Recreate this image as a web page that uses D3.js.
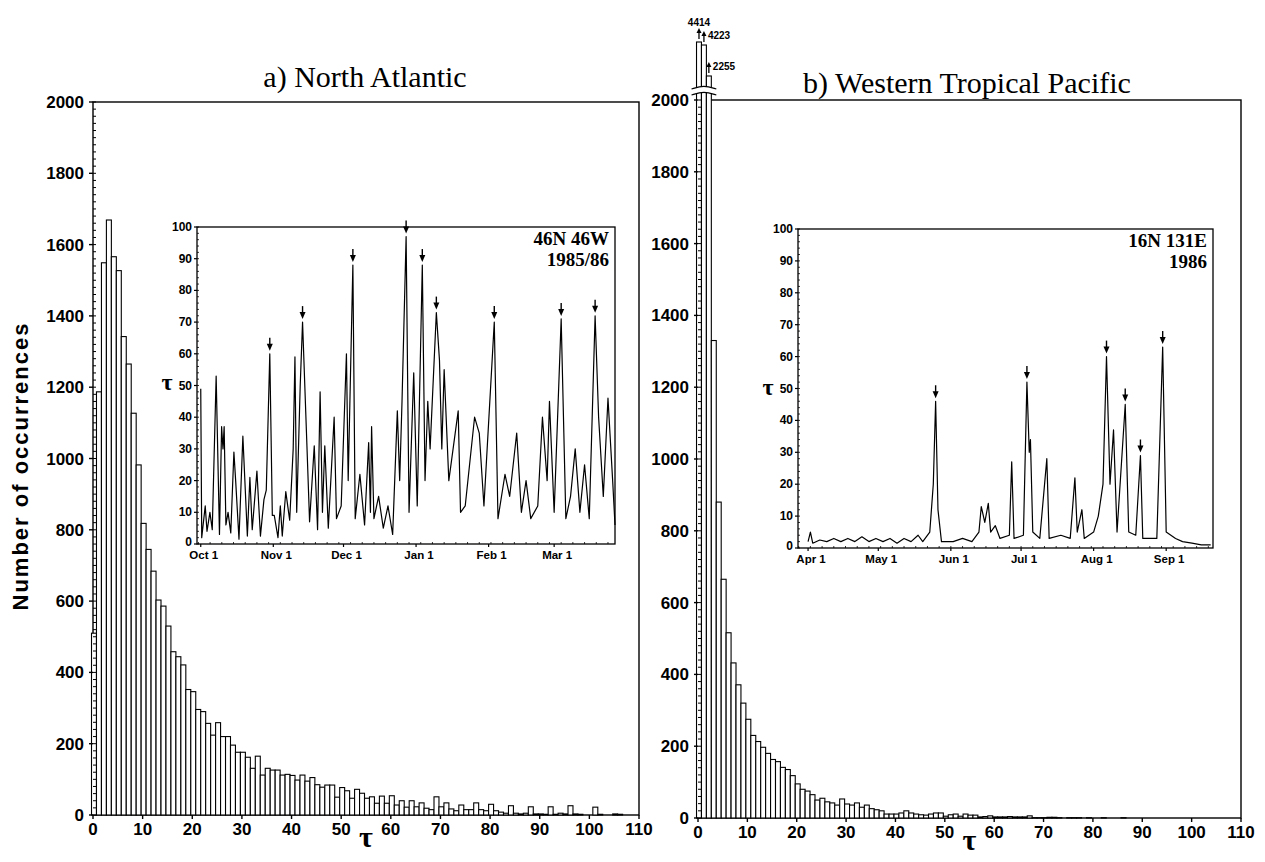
<!DOCTYPE html>
<html>
<head>
<meta charset="utf-8">
<script src="https://cdn.jsdelivr.net/npm/d3@7"></script>
<style>
  body { margin: 0; background: #fff; }
  svg text { fill: #000; }
  .tick-lbl { font-family: "Liberation Sans", Arial, sans-serif; font-weight: bold; }
  .serif { font-family: "Liberation Serif", "Times New Roman", serif; }
</style>
</head>
<body>
<svg id="chart"></svg>
<script>
const width = 1265;
const height = 862;

// histogram counts, one per bin of tau (bin i ~ tau i .. i+1)
const northAtlanticCounts = [
  510, 1187, 1549, 1669, 1566, 1527, 1342, 1265, 1127, 982,
  818, 745, 684, 603, 586, 530, 458, 444, 421, 352,
  346, 296, 290, 257, 224, 259, 220, 220, 196, 176,
  176, 162, 131, 165, 112, 131, 126, 126, 112, 114,
  111, 98, 112, 95, 105, 85, 78, 84, 84, 50,
  77, 68, 47, 72, 61, 47, 51, 33, 53, 33,
  54, 28, 40, 22, 40, 23, 34, 19, 15, 51,
  23, 34, 17, 12, 28, 15, 15, 34, 15, 12,
  30, 12, 8, 5, 26, 5, 3, 5, 23, 3,
  3, 2, 23, 2, 5, 3, 26, 3, 2, 0,
  0, 22, 2, 0, 0, 3, 2, 0, 0, 0
];
const westPacificCounts = [
  4414, 4223, 2255, 1330, 880, 665, 516, 432, 371,
  320, 275, 230, 213, 197, 180, 163, 157, 141, 135,
  118, 95, 80, 75, 65, 50, 55, 45, 42, 36,
  53, 39, 36, 42, 30, 36, 26, 23, 20, 11,
  11, 11, 14, 20, 14, 11, 9, 8, 11, 14,
  14, 5, 9, 11, 5, 11, 8, 8, 3, 4,
  6, 3, 3, 3, 4, 3, 3, 3, 6, 1,
  1, 1, 2, 2, 1, 0, 1, 1, 1, 0,
  1, 0, 0, 1, 0, 0, 0, 1, 0, 0,
  0, 0, 0, 0, 0, 0, 0, 0, 0, 0,
  0, 0, 0, 0, 0, 0, 0, 0, 0, 0
];
const histYTicks = d3.range(0, 2001, 200);
const histXTicks = d3.range(0, 111, 10);

// inset time series: [date, tau]
const naSeries = [
  ["1985-10-01", 49], ["1985-10-01T10", 2], ["1985-10-02T22", 12], ["1985-10-03T16", 4],
  ["1985-10-04T22", 10], ["1985-10-05T22", 4.5], ["1985-10-07T14", 53], ["1985-10-09", 3],
  ["1985-10-09T22", 37], ["1985-10-10T12", 30], ["1985-10-11", 37], ["1985-10-11T18", 6],
  ["1985-10-12T16", 10], ["1985-10-13T20", 3.5], ["1985-10-15T04", 29], ["1985-10-15T22", 20],
  ["1985-10-17T08", 1.5], ["1985-10-19", 34], ["1985-10-20T22", 2.5], ["1985-10-22", 21],
  ["1985-10-23", 4.5], ["1985-10-25", 23], ["1985-10-26T12", 2.5], ["1985-10-28", 14],
  ["1985-10-29", 17], ["1985-10-30T12", 60], ["1985-10-31T14", 9], ["1985-11-01T10", 9],
  ["1985-11-03", 2], ["1985-11-04", 12], ["1985-11-04T20", 2.5], ["1985-11-06T08", 16.5],
  ["1985-11-08", 7.5], ["1985-11-09T12", 30], ["1985-11-10T06", 59], ["1985-11-11", 10],
  ["1985-11-12T12", 50], ["1985-11-13T12", 70], ["1985-11-15T10", 30], ["1985-11-16T12", 7],
  ["1985-11-18T12", 31], ["1985-11-19T22", 4.5], ["1985-11-21", 48], ["1985-11-22", 10],
  ["1985-11-23", 31], ["1985-11-24T12", 5], ["1985-11-27", 40], ["1985-11-28", 8],
  ["1985-11-30", 12], ["1985-12-02T06", 60], ["1985-12-03", 20], ["1985-12-05", 88],
  ["1985-12-06", 8], ["1985-12-08", 22], ["1985-12-10", 6], ["1985-12-11T18", 32],
  ["1985-12-12T12", 10], ["1985-12-13", 37], ["1985-12-14", 8], ["1985-12-16", 15],
  ["1985-12-18", 5], ["1985-12-20", 12], ["1985-12-22", 3], ["1985-12-24", 42],
  ["1985-12-25", 20], ["1985-12-26", 45], ["1985-12-27T18", 97], ["1985-12-29", 10],
  ["1985-12-31", 54], ["1986-01-01T12", 12], ["1986-01-03T16", 88], ["1986-01-04T20", 20],
  ["1986-01-06", 45], ["1986-01-07", 30], ["1986-01-09T16", 73], ["1986-01-11", 58],
  ["1986-01-12", 30], ["1986-01-13", 55], ["1986-01-15", 20], ["1986-01-19", 42],
  ["1986-01-20", 10], ["1986-01-22", 12], ["1986-01-26", 40], ["1986-01-28", 35],
  ["1986-01-30", 12], ["1986-02-03T10", 70], ["1986-02-05", 8], ["1986-02-08", 22],
  ["1986-02-10", 15], ["1986-02-13", 35], ["1986-02-15", 10], ["1986-02-17", 20],
  ["1986-02-19", 8], ["1986-02-22", 12], ["1986-02-24", 40], ["1986-02-26", 20],
  ["1986-02-27", 45], ["1986-03-01", 10], ["1986-03-04", 71], ["1986-03-06", 8],
  ["1986-03-08", 15], ["1986-03-10", 30], ["1986-03-12", 10], ["1986-03-14", 25],
  ["1986-03-16", 8], ["1986-03-18T12", 72], ["1986-03-20", 40], ["1986-03-22", 15],
  ["1986-03-24", 46], ["1986-03-26", 20], ["1986-03-27", 6]
];
const naArrows = ["1985-10-30T12", "1985-11-13T12", "1985-12-05", "1985-12-27T18",
  "1986-01-03T16", "1986-01-09T16", "1986-02-03T10", "1986-03-04", "1986-03-18T12"];

const wpSeries = [
  ["1986-04-01", 2], ["1986-04-02", 5], ["1986-04-03", 1.5], ["1986-04-06", 2.5],
  ["1986-04-09", 2], ["1986-04-12", 3], ["1986-04-15", 2], ["1986-04-18", 3],
  ["1986-04-21", 2], ["1986-04-24", 3.5], ["1986-04-27", 2], ["1986-04-30", 3],
  ["1986-05-03", 2], ["1986-05-06", 3], ["1986-05-09", 1.5], ["1986-05-12", 3],
  ["1986-05-15", 2], ["1986-05-18", 4], ["1986-05-20", 2], ["1986-05-23", 5],
  ["1986-05-24T12", 20], ["1986-05-25T12", 46], ["1986-05-26T12", 12], ["1986-05-28", 2],
  ["1986-06-02", 2], ["1986-06-06", 3], ["1986-06-10", 2], ["1986-06-13", 5],
  ["1986-06-14", 13], ["1986-06-15T12", 8], ["1986-06-17", 14], ["1986-06-18", 5],
  ["1986-06-20", 7], ["1986-06-22", 3], ["1986-06-26", 4], ["1986-06-27", 27],
  ["1986-06-28", 3], ["1986-07-02", 4], ["1986-07-03T12", 52], ["1986-07-04T12", 30],
  ["1986-07-05", 34], ["1986-07-06", 5], ["1986-07-09", 3], ["1986-07-12", 28],
  ["1986-07-13", 3], ["1986-07-18", 4], ["1986-07-22", 3], ["1986-07-24", 22],
  ["1986-07-25", 5], ["1986-07-27", 12], ["1986-07-28", 3], ["1986-08-01", 5],
  ["1986-08-03", 10], ["1986-08-05", 20], ["1986-08-06T12", 60], ["1986-08-08", 20],
  ["1986-08-09T12", 37], ["1986-08-11", 5], ["1986-08-14T12", 45], ["1986-08-16", 5],
  ["1986-08-19", 4], ["1986-08-21", 29], ["1986-08-22", 3], ["1986-08-28", 3],
  ["1986-08-30T12", 63], ["1986-09-01", 5], ["1986-09-05", 3], ["1986-09-08", 2],
  ["1986-09-12", 1.5], ["1986-09-16", 1], ["1986-09-20", 1]
];
const wpArrows = ["1986-05-25T12", "1986-07-03T12", "1986-08-06T12", "1986-08-14T12",
  "1986-08-21", "1986-08-30T12"];

const insetYTicks = d3.range(0, 101, 10);
const naMonths = ["1985-10-01", "1985-11-01", "1985-12-01", "1986-01-01", "1986-02-01", "1986-03-01"];
const wpMonths = ["1986-04-01", "1986-05-01", "1986-06-01", "1986-07-01", "1986-08-01", "1986-09-01"];

// labels written beside the bars that run past the axis break
const brokenLabels = ["4414", "4223", "2255"];

const parse = s => new Date(s.length > 10 ? s + ":00" : s + "T00:00");
const fmtMonth = d3.timeFormat("%b 1");

const svg = d3.select("#chart").attr("width", width).attr("height", height);

function drawHist(o) {
  const x = d3.scaleLinear().domain([0, 110]).range([o.left, o.right]);
  const y = d3.scaleLinear().domain([0, 2000]).range([o.bottom, o.top]);
  // compressed scale used above the break
  const yTop = d3.scaleLinear().domain([2000, 4414]).range([o.top - 20, o.top - 58]);
  const g = svg.append("g");

  g.append("rect")
    .attr("x", o.left).attr("y", o.top)
    .attr("width", o.right - o.left).attr("height", o.bottom - o.top)
    .attr("fill", "none").attr("stroke", "#000").attr("stroke-width", 1.4);

  const bars = o.counts.map((c, i) => ({ i, c }));
  const barTop = d => d.c > 2000 ? yTop(d.c) : y(d.c);
  g.selectAll("rect.bar")
    .data(bars)
    .enter().append("rect")
    .attr("class", "bar")
    .attr("x", d => x(d.i - 0.3))
    .attr("width", d => x(d.i + 0.7) - x(d.i - 0.3))
    .attr("y", barTop)
    .attr("height", d => o.bottom - barTop(d))
    .attr("fill", "#fff").attr("stroke", "#000").attr("stroke-width", 1.1);

  const tall = bars.filter(d => d.c > 2000);
  if (tall.length) {
    const x0 = x(tall[0].i - 0.3) - 2, x1 = x(tall[tall.length - 1].i + 0.7) + 2;
    g.append("rect").attr("x", x0).attr("y", o.top - 13).attr("width", x1 - x0).attr("height", 6).attr("fill", "#fff");
    const wave = d3.line().curve(d3.curveBasis);
    [o.top - 13, o.top - 7].forEach(yy => {
      g.append("path")
        .attr("d", wave([[x0 - 3, yy + 2], [(x0 + x1) / 2, yy - 2], [x1 + 3, yy + 2]]))
        .attr("fill", "none").attr("stroke", "#000").attr("stroke-width", 1.2);
    });
    tall.forEach((d, k) => {
      const cx = x(d.i + 0.2);
      const ty = yTop(d.c) - 3;
      g.append("line").attr("x1", cx).attr("x2", cx).attr("y1", ty).attr("y2", ty - 9)
        .attr("stroke", "#000").attr("stroke-width", 1.3);
      g.append("path").attr("d", `M${cx - 2.5},${ty - 6}L${cx},${ty - 11}L${cx + 2.5},${ty - 6}Z`).attr("fill", "#000");
      const lbl = g.append("text").attr("class", "tick-lbl").style("font-size", "10px").text(brokenLabels[k]);
      if (k === 0) lbl.attr("x", cx).attr("y", ty - 13).attr("text-anchor", "middle");
      else lbl.attr("x", cx + 4).attr("y", ty - 3);
    });
  }

  // y axis ticks
  g.selectAll("line.ymin").data(d3.range(0, 2001, 20)).enter().append("line")
    .attr("x1", o.left).attr("x2", o.left + 3)
    .attr("y1", d => y(d)).attr("y2", d => y(d))
    .attr("stroke", "#000").attr("stroke-width", 1);
  g.selectAll("line.ymaj").data(histYTicks).enter().append("line")
    .attr("x1", o.left - 4).attr("x2", o.left)
    .attr("y1", d => y(d)).attr("y2", d => y(d))
    .attr("stroke", "#000").attr("stroke-width", 1.4);
  g.selectAll("text.ylbl").data(histYTicks).enter().append("text")
    .attr("class", "tick-lbl")
    .attr("x", o.left - 9).attr("y", d => y(d) + 6)
    .attr("text-anchor", "end").style("font-size", "17px")
    .text(d => d);

  // x axis ticks
  g.selectAll("line.xmaj").data(histXTicks).enter().append("line")
    .attr("x1", d => x(d)).attr("x2", d => x(d))
    .attr("y1", o.bottom).attr("y2", o.bottom + 4)
    .attr("stroke", "#000").attr("stroke-width", 1.4);
  g.selectAll("text.xlbl").data(histXTicks).enter().append("text")
    .attr("class", "tick-lbl")
    .attr("x", d => x(d)).attr("y", o.bottom + 20)
    .attr("text-anchor", "middle").style("font-size", "17px")
    .text(d => d);

  g.append("text").attr("class", "serif")
    .attr("x", x(55)).attr("y", o.bottom + 32)
    .attr("text-anchor", "middle").style("font-size", "30px").style("font-weight", "bold")
    .text("τ");

  g.append("text").attr("class", "serif")
    .attr("x", o.titleX).attr("y", o.titleY)
    .attr("text-anchor", "middle").style("font-size", "30px")
    .text(o.title);
}

function drawInset(o) {
  const x = d3.scaleTime().domain(o.domain).range([o.left, o.right]);
  const y = d3.scaleLinear().domain([0, 100]).range([o.bottom, o.top]);
  const g = svg.append("g");
  g.append("rect")
    .attr("x", o.left).attr("y", o.top)
    .attr("width", o.right - o.left).attr("height", o.bottom - o.top)
    .attr("fill", "#fff").attr("stroke", "#000").attr("stroke-width", 1.3);

  const pts = o.series.map(d => [parse(d[0]), d[1]]);
  g.append("path")
    .datum(pts)
    .attr("d", d3.line().x(d => x(d[0])).y(d => y(d[1])))
    .attr("fill", "none").attr("stroke", "#000").attr("stroke-width", 1.2)
    .attr("stroke-linejoin", "round");

  o.arrows.forEach(a => {
    const pt = pts.find(p => +p[0] === +parse(a));
    const cx = x(pt[0]);
    const ty = y(pt[1]) - 3;
    g.append("line").attr("x1", cx).attr("x2", cx).attr("y1", ty - 13).attr("y2", ty - 4)
      .attr("stroke", "#000").attr("stroke-width", 1.4);
    g.append("path").attr("d", `M${cx - 3},${ty - 7}L${cx},${ty}L${cx + 3},${ty - 7}Z`).attr("fill", "#000");
  });

  g.selectAll("line.ymin").data(d3.range(0, 101, 2)).enter().append("line")
    .attr("x1", o.left).attr("x2", o.left + 2)
    .attr("y1", d => y(d)).attr("y2", d => y(d))
    .attr("stroke", "#000").attr("stroke-width", 0.8);
  g.selectAll("line.ymaj").data(insetYTicks).enter().append("line")
    .attr("x1", o.left - 3).attr("x2", o.left)
    .attr("y1", d => y(d)).attr("y2", d => y(d))
    .attr("stroke", "#000").attr("stroke-width", 1.2);
  g.selectAll("text.ylbl").data(insetYTicks).enter().append("text")
    .attr("class", "tick-lbl")
    .attr("x", o.left - 5).attr("y", d => y(d) + (d === 0 ? 2 : 4))
    .attr("text-anchor", "end").style("font-size", "12px")
    .text(d => d);

  const days = d3.timeDay.range(o.domain[0], o.domain[1], 5);
  g.selectAll("line.xmin").data(days).enter().append("line")
    .attr("x1", d => x(d)).attr("x2", d => x(d))
    .attr("y1", o.bottom).attr("y2", o.bottom - 2)
    .attr("stroke", "#000").attr("stroke-width", 0.8);
  const months = o.months.map(parse);
  g.selectAll("line.xmaj").data(months).enter().append("line")
    .attr("x1", d => x(d)).attr("x2", d => x(d))
    .attr("y1", o.bottom).attr("y2", o.bottom + 3)
    .attr("stroke", "#000").attr("stroke-width", 1.2);
  g.selectAll("text.xlbl").data(months).enter().append("text")
    .attr("class", "tick-lbl")
    .attr("x", d => x(d) + 3).attr("y", o.bottom + 15)
    .attr("text-anchor", "middle").style("font-size", "11.5px")
    .text(fmtMonth);

  g.append("text").attr("class", "serif")
    .attr("x", o.left - 30).attr("y", o.tauY)
    .attr("text-anchor", "middle").style("font-size", "24px").style("font-weight", "bold")
    .text("τ");

  o.label.forEach((t, k) => {
    g.append("text").attr("class", "serif")
      .attr("x", o.right - 6).attr("y", o.top + 18 + k * 21)
      .attr("text-anchor", "end").style("font-size", "19px").style("font-weight", "bold")
      .text(t);
  });
}

drawHist({ left: 93, right: 639, top: 102, bottom: 815, counts: northAtlanticCounts,
  title: "a) North Atlantic", titleX: 365, titleY: 87 });
drawHist({ left: 698, right: 1241, top: 100, bottom: 818, counts: westPacificCounts,
  title: "b) Western Tropical Pacific", titleX: 967, titleY: 93 });

const naStart = parse("1985-10-01"), wpStart = parse("1986-04-01");
const dayMs = 864e5;
drawInset({ left: 197, right: 615, top: 227, bottom: 544,
  domain: [new Date(+naStart - 1.6 * dayMs), new Date(+naStart + 177 * dayMs)],
  series: naSeries, arrows: naArrows, months: naMonths, tauY: 390,
  label: ["46N 46W", "1985/86"] });
drawInset({ left: 798, right: 1213, top: 229, bottom: 548,
  domain: [new Date(+wpStart - 4.3 * dayMs), new Date(+wpStart + 173 * dayMs)],
  series: wpSeries, arrows: wpArrows, months: wpMonths, tauY: 395,
  label: ["16N 131E", "1986"] });

svg.append("text").attr("class", "tick-lbl")
  .attr("transform", "translate(28,466) rotate(-90)")
  .attr("text-anchor", "middle").style("font-size", "22px").style("letter-spacing", "2px")
  .text("Number of occurrences");
</script>
</body>
</html>
